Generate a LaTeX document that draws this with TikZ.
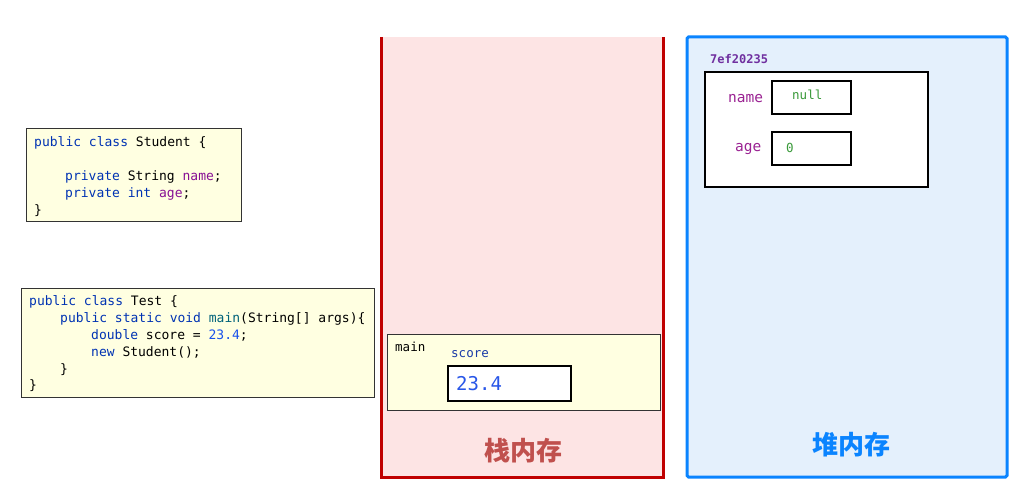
\documentclass[tikz,border=0pt]{standalone}
\usepackage{fontspec}
\setmonofont{DejaVu Sans Mono}
\newfontfamily\cjk{Noto Sans CJK SC}
\definecolor{kw}{HTML}{0033B3}
\definecolor{fld}{HTML}{871094}
\definecolor{num}{HTML}{1750EB}
\definecolor{mth}{HTML}{00627A}
\definecolor{codebg}{HTML}{FFFFE1}
\definecolor{stackred}{HTML}{C00000}
\definecolor{stackbg}{HTML}{FDE4E4}
\definecolor{stacktxt}{HTML}{C0504D}
\definecolor{heapblue}{HTML}{0A84FF}
\definecolor{heapbg}{HTML}{E4F0FC}
\definecolor{addr}{HTML}{7030A0}
\definecolor{lbl}{HTML}{9B2393}
\definecolor{valgreen}{HTML}{3A9A3A}
\definecolor{scoreblue}{HTML}{1A3BA8}
\definecolor{valblue}{HTML}{2856E8}
\tikzset{
  code/.style={anchor=base west,inner sep=0pt,font=\fontsize{13}{15}\selectfont\ttfamily},
  codebox/.style={draw=black!80,line width=1pt,fill=codebg},
  valbox/.style={draw=black,line width=2pt,fill=white},
  cjklabel/.style={anchor=base,inner sep=0pt,font=\cjk\bfseries\fontsize{26}{28}\selectfont}
}
\begin{document}
\begin{tikzpicture}[x=1pt,y=-1pt]
\useasboundingbox (0,0) rectangle (1035,495);
% stack memory
\fill[stackbg] (381,37) rectangle (663,477);
\draw[stackred,line width=3pt] (381,37) -- (381,477) -- (663,477) -- (663,37);
% heap memory
\draw[heapblue,fill=heapbg,line width=3pt,rounded corners=1.5pt] (687,37) rectangle (1007,477);
% Student class
\draw[codebox] (26,128) rectangle (241,221);
\node[code] (s1) at (34,146) {\textcolor{kw}{public class} Student \{};
\node[code] (s2) at (65,180) {\textcolor{kw}{private} String \textcolor{fld}{name};};
\node[code] (s3) at (65,197) {\textcolor{kw}{private int} \textcolor{fld}{age};};
\node[code] (s4) at (34,214) {\}};
% Test class
\draw[codebox] (21,288) rectangle (374,397);
\node[code] (t1) at (29,305) {\textcolor{kw}{public class} Test \{};
\node[code] (t2) at (60,322) {\textcolor{kw}{public static void} \textcolor{mth}{main}(String[] args)\{};
\node[code] (t3) at (91,339) {\textcolor{kw}{double} score = \textcolor{num}{23.4};};
\node[code] (t4) at (91,356) {\textcolor{kw}{new} Student();};
\node[code] (t5) at (60,373) {\}};
\node[code] (t6) at (29,389) {\}};
% main frame
\draw[draw=black!80,line width=1pt,fill=codebg] (387,334) rectangle (660,410);
\node[anchor=base west,inner sep=0pt,font=\fontsize{12.5}{14}\selectfont\ttfamily] (mainlbl) at (395,351) {main};
\node[anchor=base west,inner sep=0pt,font=\fontsize{12.5}{14}\selectfont\ttfamily,text=scoreblue] (scorelbl) at (451,357) {score};
\draw[valbox] (448,366) rectangle (571,401);
\node[anchor=base west,inner sep=0pt,font=\fontsize{19}{21}\selectfont\ttfamily,text=valblue] (scoreval) at (456,390) {23.4};
\node[cjklabel,text=stacktxt] (stacklbl) at (523,460) {栈内存};
% heap object
\node[anchor=base west,inner sep=0pt,font=\fontsize{12}{14}\selectfont\ttfamily\bfseries,text=addr] (addr) at (710,63.5) {7ef20235};
\draw[valbox] (705,72) rectangle (928,187);
\node[anchor=base west,inner sep=0pt,font=\fontsize{14.5}{16}\selectfont\ttfamily,text=lbl] (namelbl) at (728,102.5) {name};
\draw[draw=black,line width=1.5pt,fill=white] (772,81) rectangle (851,114);
\node[anchor=base west,inner sep=0pt,font=\fontsize{12.5}{14}\selectfont\ttfamily,text=valgreen] (nullval) at (792,99.5) {null};
\node[anchor=base west,inner sep=0pt,font=\fontsize{14.5}{16}\selectfont\ttfamily,text=lbl] (agelbl) at (735,151) {age};
\draw[draw=black,line width=1.5pt,fill=white] (772,132) rectangle (851,165);
\node[anchor=base west,inner sep=0pt,font=\fontsize{12.5}{14}\selectfont\ttfamily,text=valgreen] (ageval) at (786,152.5) {0};
\node[cjklabel,text=heapblue] (heaplbl) at (851,454) {堆内存};
\end{tikzpicture}
\end{document}
